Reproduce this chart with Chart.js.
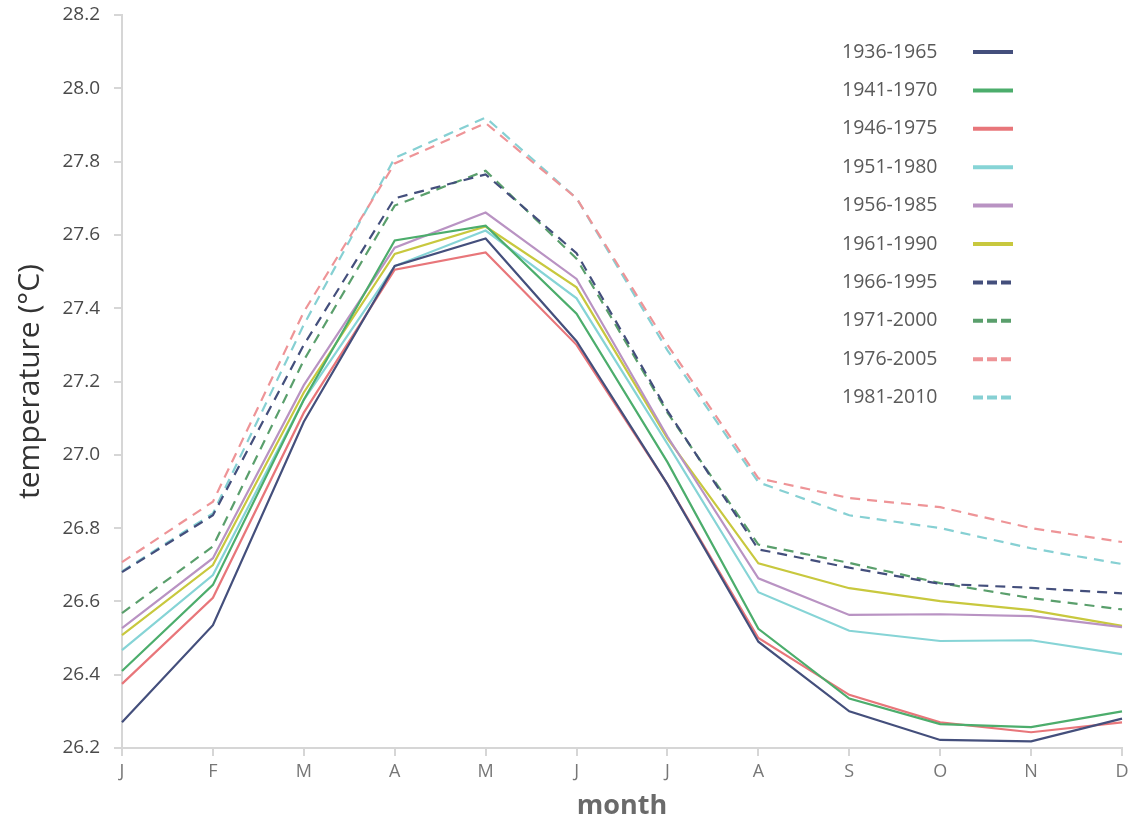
<!DOCTYPE html>
<html>
<head>
<meta charset="utf-8">
<script src="https://cdn.jsdelivr.net/npm/chart.js@4.4.1/dist/chart.umd.min.js"></script>
<style>
  html, body { margin: 0; padding: 0; background: #ffffff; }
  #wrap { width: 1134px; height: 823px; position: relative; }
</style>
</head>
<body>
<div id="wrap"><canvas id="c" width="1134" height="823"></canvas></div>
<script>
const months = ['J','F','M','A','M','J','J','A','S','O','N','D'];
const yTicks = [26.2, 26.4, 26.6, 26.8, 27.0, 27.2, 27.4, 27.6, 27.8, 28.0, 28.2];

const seriesNames = ['1936-1965','1941-1970','1946-1975','1951-1980','1956-1985','1961-1990','1966-1995','1971-2000','1976-2005','1981-2010'];

const p1936 = [26.27, 26.535, 27.09, 27.515, 27.59, 27.31, 26.92, 26.49, 26.30, 26.222, 26.218, 26.28];
const p1941 = [26.41, 26.645, 27.15, 27.585, 27.625, 27.385, 26.98, 26.525, 26.335, 26.265, 26.257, 26.30];
const p1946 = [26.375, 26.61, 27.115, 27.505, 27.552, 27.30, 26.92, 26.50, 26.345, 26.27, 26.243, 26.27];
const p1951 = [26.467, 26.672, 27.15, 27.515, 27.612, 27.427, 27.03, 26.625, 26.52, 26.492, 26.494, 26.456];
const p1956 = [26.527, 26.718, 27.19, 27.565, 27.661, 27.48, 27.05, 26.663, 26.563, 26.565, 26.56, 26.53];
const p1961 = [26.508, 26.699, 27.17, 27.548, 27.623, 27.457, 27.045, 26.704, 26.636, 26.601, 26.576, 26.533];
const p1966 = [26.68, 26.835, 27.30, 27.70, 27.765, 27.55, 27.12, 26.742, 26.692, 26.648, 26.637, 26.622];
const p1971 = [26.568, 26.75, 27.258, 27.68, 27.775, 27.535, 27.115, 26.755, 26.705, 26.65, 26.609, 26.578];
const p1976 = [26.707, 26.872, 27.39, 27.795, 27.905, 27.70, 27.30, 26.936, 26.882, 26.857, 26.80, 26.762];
const p1981 = [26.682, 26.84, 27.355, 27.81, 27.92, 27.70, 27.285, 26.925, 26.835, 26.80, 26.745, 26.702];

const seriesValues = [p1936, p1941, p1946, p1951, p1956, p1961, p1966, p1971, p1976, p1981];
const seriesColors = ['#444f7c', '#4cad6c', '#e8767a', '#86d4d6', '#b993c3', '#c8c83e', '#444f7c', '#5a9f6c', '#ee9497', '#86d0d3'];
const seriesDashed = [false, false, false, false, false, false, true, true, true, true];

const datasets = seriesNames.map((name, i) => ({
  label: name,
  data: seriesValues[i],
  borderColor: seriesColors[i],
  backgroundColor: seriesColors[i],
  borderWidth: 2.2,
  borderDash: seriesDashed[i] ? [10, 7] : [],
  pointRadius: 0,
  tension: 0,
  fill: false
}));

const FONT = "'Open Sans', 'DejaVu Sans', sans-serif";

const legendPlugin = {
  id: 'customLegend',
  afterDraw(chart) {
    const ctx = chart.ctx;
    ctx.save();
    ctx.font = "19.5px " + FONT;
    ctx.fillStyle = '#5a5a5a';
    ctx.textBaseline = 'middle';
    ctx.textAlign = 'left';
    chart.data.datasets.forEach((ds, i) => {
      const y = 52 + i * 38.4;
      ctx.fillText(ds.label, 842, y);
      ctx.beginPath();
      ctx.strokeStyle = ds.borderColor;
      ctx.lineWidth = 4;
      ctx.lineCap = 'butt';
      if (seriesDashed[i]) {
        ctx.setLineDash([10, 4]);
        ctx.moveTo(973, y);
        ctx.lineTo(1011, y);
      } else {
        ctx.setLineDash([]);
        ctx.moveTo(973, y);
        ctx.lineTo(1013, y);
      }
      ctx.stroke();
    });
    ctx.restore();
  }
};

new Chart(document.getElementById('c'), {
  type: 'line',
  data: { labels: months, datasets: datasets },
  options: {
    responsive: false,
    animation: false,
    layout: { padding: { left: 0, right: 12, top: 15, bottom: 0 } },
    plugins: {
      legend: { display: false },
      tooltip: { enabled: false }
    },
    scales: {
      x: {
        offset: false,
        grid: { drawOnChartArea: false, drawTicks: true, tickLength: 8, color: '#d6d6d6', lineWidth: 2 },
        border: { display: true, color: '#d6d6d6', width: 2 },
        ticks: { color: '#777777', font: { family: FONT, size: 18 }, padding: 5, maxRotation: 0, autoSkip: false },
        title: { display: true, text: 'month', color: '#6a6a6a', font: { family: FONT, size: 27, weight: 'bold' }, padding: { top: 0, bottom: 0 } },
        afterFit(scale) { scale.height = 75; }
      },
      y: {
        min: 26.2,
        max: 28.2,
        afterBuildTicks(scale) { scale.ticks = yTicks.map(v => ({ value: v })); },
        grid: { drawOnChartArea: false, drawTicks: true, tickLength: 8, color: '#d6d6d6', lineWidth: 2 },
        border: { display: true, color: '#d6d6d6', width: 2 },
        ticks: { color: '#4a4a4a', font: { family: FONT, size: 19 }, padding: 14, callback: v => Number(v).toFixed(1) },
        title: { display: true, text: 'temperature (°C)', color: '#333333', font: { family: FONT, size: 30 }, padding: { top: 12, bottom: 0 } },
        afterFit(scale) { scale.width = 122; scale.paddingTop = 0; scale.paddingBottom = 0; }
      }
    }
  },
  plugins: [legendPlugin]
});
</script>
</body>
</html>
